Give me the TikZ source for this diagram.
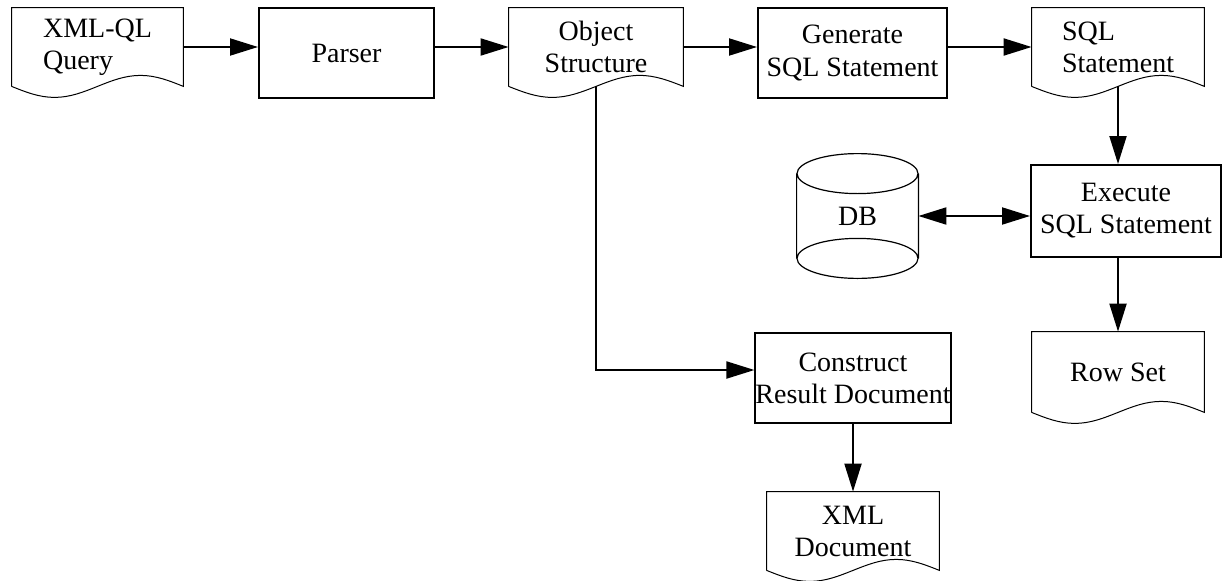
\documentclass[tikz,border=0pt]{standalone}
\usepackage{fontspec}
\setmainfont{Liberation Serif}
\usetikzlibrary{arrows.meta,calc}

\tikzset{
  procbox/.style={draw, line width=1pt, minimum height=45pt, inner sep=0pt, align=center},
  docnode/.style={minimum height=39pt, inner sep=0pt, align=center},
  flow/.style={line width=1pt, ->},
  >={Triangle[length=14pt,width=8.5pt]},
}
\newcommand{\docframe}[1]{%
  \draw[line width=0.5pt] (#1.south west) -- (#1.north west) -- (#1.north east) -- (#1.south east)
    sin ($(#1.south east)!0.25!(#1.south west)+(0,5.5pt)$) cos (#1.south)
    sin ($(#1.south west)!0.25!(#1.south east)-(0,5.5pt)$) cos (#1.south west);}

\begin{document}
\begin{tikzpicture}[x=0.5pt, y=0.5pt, font=\fontsize{14}{16}\selectfont]
  \useasboundingbox (0,0) rectangle (1224,580);
  \node[docnode, minimum width=85.5pt, align=left] (query) at (97.5,533) {XML-QL\\Query};
  \node[procbox, minimum width=87.5pt] (parser) at (346.5,527) {Parser};
  \node[docnode, minimum width=87pt] (objstr) at (596,533) {Object\\Structure};
  \node[procbox, minimum width=94.5pt] (generate) at (852.5,527) {Generate\\SQL Statement};
  \node[docnode, minimum width=86pt, align=left] (sqlstmt) at (1118,533) {SQL\\Statement};
  \node[minimum width=60.5pt, minimum height=62pt, inner sep=0pt] (db) at (857.5,364) {DB};
  \node[procbox, minimum width=95pt, minimum height=46pt] (exec) at (1126,369) {Execute\\SQL Statement};
  \node[procbox, minimum width=95pt] (construct) at (853,202) {Construct\\Result Document};
  \node[docnode, minimum width=86pt, minimum height=40pt] (rowset) at (1118,208) {Row Set};
  \node[docnode, minimum width=86pt] (xmldoc) at (853,49) {XML\\Document};

  \foreach \d in {query,objstr,sqlstmt,rowset,xmldoc} {\docframe{\d}}
  \draw[line width=0.6pt] ([yshift=-10pt]db.north) ellipse [x radius=30.25pt, y radius=10pt]
    ([yshift=10pt]db.south) ellipse [x radius=30.25pt, y radius=10pt]
    ([yshift=-10pt]db.north west) -- ([yshift=10pt]db.south west)
    ([yshift=-10pt]db.north east) -- ([yshift=10pt]db.south east);

  \draw[flow] (query.east) -- (query.east -| parser.west);
  \draw[flow] (objstr.west -| parser.east) -- (objstr.west);
  \draw[flow] (objstr.east) -- (objstr.east -| generate.west);
  \draw[flow] (sqlstmt.west -| generate.east) -- (sqlstmt.west);
  \draw[flow] (sqlstmt.south) -- (sqlstmt.south |- exec.north);
  \draw[flow, <->] (db.east) -- (db.east -| exec.west);
  \draw[flow] (exec.south -| rowset.north) -- (rowset.north);
  \draw[flow] (objstr.south) |- ([yshift=4pt]construct.west);
  \draw[flow] (construct.south) -- (xmldoc.north);
\end{tikzpicture}
\end{document}
